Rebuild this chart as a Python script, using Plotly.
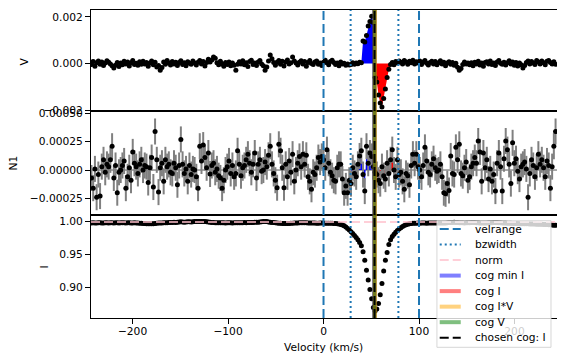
import numpy as np
import plotly.graph_objects as go
from plotly.subplots import make_subplots

# ---------------- data ----------------
vel_start, vel_step, n_pts = -243.0, 1.8, 271
velocity = np.round(vel_start + vel_step * np.arange(n_pts), 2)

# Stokes V in units of 1e-4
V_1e4 = [
    -0.5, 0.8, -1.2, 0.3, 1.0, -0.4, 0.6, -0.9, 0.2, 1.1,
    0.5, -0.3, -1.0, -2.0, -0.8, 0.4, -1.3, 0.2, -0.6, 0.9,
    -0.2, 0.6, -1.1, 0.3, 1.2, -0.5, 0.1, -0.8, 0.7, -0.4,
    0.9, -0.3, 0.4, -1.2, 0.2, 1.0, -0.6, 0.5, -1.5, -0.9,
    -2.9, -1.8, 0.6, -0.4, 1.3, 0.2, -0.7, 0.8, -0.2, 0.5,
    -0.9, 0.4, 1.1, -0.5, 0.3, -1.0, 0.7, 0.1, -0.4, 1.0,
    0.2, -0.7, 0.5, 1.3, -0.3, 0.8, -1.1, 0.4, 1.8, 0.6,
    1.5, 2.8, 2.2, 0.3, -0.6, 0.9, -0.2, -1.2, 0.4, -0.5,
    0.6, -1.0, 0.2, -0.8, -2.9, -0.4, 0.7, -0.2, 1.1, -0.6,
    0.3, -1.3, 0.8, 1.4, -0.5, 0.2, -0.9, 0.6, 1.2, -0.3,
    -1.0, -2.9, -1.5, 1.0, 3.6, 2.0, 0.4, -0.8, 0.5, 1.2,
    -0.4, 0.9, -1.1, 0.6, 1.5, -0.2, 0.3, 2.8, 1.0, 0.2,
    -0.7, 0.5, 1.1, -0.3, 0.8, -1.2, 0.4, 1.3, 0.0, -0.5,
    0.6, 1.0, -0.4, 0.2, -0.9, 0.5, 1.4, 0.3, -0.6, 0.8,
    1.4, 0.4, -0.5, 0.2, -1.0, 0.6, -0.3, 0.1, -0.8, -0.2,
    -0.7, -0.5, 0.3, -0.4, 0.2, -0.1, 0.5, 0.3, 9.6, 9.2,
    12.0, 16.0, 18.0, 20.2, 17.5, -6.0, -8.0, -13.5, -17.0, -18.7,
    -15.0, -11.0, -6.0, -2.5, -0.5, 0.4, -0.6, 0.8, 0.2, 1.0,
    0.5, -0.3, 1.2, 0.6, -0.4, 0.9, 0.3, 1.4, -0.2, 0.7,
    0.2, 1.0, -0.5, 0.6, 1.3, 0.1, -0.7, 0.4, 0.9, -0.3,
    0.8, -0.6, 0.3, 1.1, -0.2, 0.5, -1.0, 0.2, 0.7, -0.4,
    0.4, -0.8, 0.1, -1.6, -2.9, -2.2, -0.5, 0.6, -0.3, 0.2,
    -0.6, 0.3, -1.0, 0.5, -0.2, 0.9, -0.7, 0.2, -1.2, 0.4,
    0.7, -0.3, 1.0, -0.5, 0.2, -0.9, 0.6, 1.3, 0.1, -0.4,
    0.5, -0.7, 0.3, 1.1, -0.2, 0.6, -0.8, 0.4, -1.1, 0.2,
    -0.6, -2.0, -0.9, 0.4, 1.0, -0.3, 0.8, 0.2, -0.5, 1.2,
    0.6, -0.2, 1.0, 0.3, -0.6, 0.9, 1.3, 0.4, -0.3, 0.7,
    -0.4,
]

# Null profile N1 in units of 1e-4
N1_1e4 = [
    -0.7, -1.6, 0.1, -2.4, -0.4, -2.3, 0.3, 0.9, -0.2, 0.5,
    0.3, 0.9, 2.1, -0.7, 0.4, -2.0, -0.2, 0.0, 0.4, 0.8,
    -1.6, -0.6, 0.2, -0.9, 1.6, 0.6, 0.3, -0.3, 0.5, 0.9,
    0.0, 0.4, 0.3, -1.1, 0.2, 1.1, -1.5, 3.4, 0.9, -1.95,
    0.2, 0.6, -1.0, 0.9, 0.3, 0.5, -0.2, -0.3, 0.6, 0.2,
    -1.3, 0.4, 2.7, 0.5, -0.3, 0.1, -1.0, 0.4, -0.4, 0.1,
    0.0, -0.6, -1.6, 2.1, 0.8, 2.2, 1.1, 0.2, 1.5, -0.35,
    0.4, 0.6, -0.2, 0.1, -0.5, -0.7, -1.6, -0.9, 0.0, 0.3,
    0.8, -0.3, 0.4, -0.6, -0.3, 1.7, 0.5, -0.5, 0.2, 0.4,
    0.9, 1.4, 0.6, -0.2, 0.5, 1.5, -0.7, 0.5, 0.9, -0.1,
    0.0, 0.7, 0.3, 1.3, 2.1, 0.5, -0.3, -0.9, -1.56, 2.27,
    1.7, 0.2, -1.56, 0.5, -0.6, 0.8, -0.2, 1.4, -1.0, 0.0,
    0.6, 1.2, 0.3, 1.4, 0.5, 1.3, -0.6, -1.0, -1.7, -0.2,
    -0.4, 0.2, 1.1, 0.7, 1.2, 0.9, 0.2, 1.8, 0.6, -0.2,
    -0.5, -0.9, -1.0, 0.2, 0.5, 0.5, -0.8, -2.0, -1.4, -2.0,
    -0.9, -1.2, 0.2, -0.3, -0.6, 0.5, 1.24, 1.7, -0.4, -1.86,
    2.1, 0.6, 1.5, 1.2, 0.3, -0.2, -0.4, -0.9, -1.2, 0.3,
    -0.5, -0.8, 0.6, -0.3, 0.9, 1.8, 0.0, -0.6, 0.9, -0.4,
    -0.2, -1.0, -1.7, -0.3, -0.5, -1.3, 0.4, 1.4, 0.6, 1.4,
    0.3, 0.0, -0.6, 0.4, 2.0, 0.8, -0.2, -0.4, 0.5, 1.0,
    0.2, -0.1, 0.0, 0.5, -0.6, -2.0, -2.1, -1.2, -1.8, 1.24,
    -0.3, -0.4, 2.0, 0.9, 2.27, -0.3, -0.5, 0.2, 0.7, -0.9,
    -0.6, 0.3, 0.6, 1.1, 0.6, 2.56, 1.6, -1.0, 1.5, 0.2,
    0.9, -0.8, 0.1, -1.0, -0.4, -1.86, 0.6, 1.5, 0.3, -1.86,
    1.0, 2.56, 1.8, 0.5, -1.2, 2.4, 0.6, 1.0, -0.1, -0.8,
    0.3, 0.5, 0.7, 0.1, -2.4, -0.3, 0.9, 0.4, -0.6, 0.2,
    1.4, 0.5, 0.9, 0.2, -0.6, 0.8, 0.4, -1.6, 0.3, 2.1,
    3.4,
]
N1_err = 1.15e-4

# Stokes I
I_flux = [
    0.9975, 0.9978, 0.9976, 0.9974, 0.9977, 0.9979, 0.9976, 0.9975, 0.9978, 0.9977,
    0.9976, 0.9978, 0.9977, 0.9975, 0.9977, 0.9978, 0.9976, 0.9977, 0.9979, 0.9977,
    0.9976, 0.9978, 0.9977, 0.9975, 0.9976, 0.9977, 0.9976, 0.9974, 0.9972, 0.9970,
    0.9968, 0.9966, 0.9964, 0.9963, 0.9962, 0.9963, 0.9964, 0.9966, 0.9970, 0.9973,
    0.9975, 0.9976, 0.9978, 0.9977, 0.9979, 0.9981, 0.9980, 0.9982, 0.9984, 0.9983,
    0.9985, 0.9990, 0.9993, 0.9988, 0.9985, 0.9990, 0.9994, 0.9992, 0.9990, 0.9993,
    0.9995, 0.9996, 0.9995, 0.9997, 0.9996, 0.9995, 0.9996, 0.9994, 0.9990, 0.9986,
    0.9982, 0.9980, 0.9979, 0.9978, 0.9979, 0.9977, 0.9978, 0.9977, 0.9976, 0.9977,
    0.9978, 0.9977, 0.9976, 0.9977, 0.9978, 0.9979, 0.9978, 0.9977, 0.9978, 0.9980,
    0.9979, 0.9980, 0.9981, 0.9983, 0.9982, 0.9984, 0.9985, 0.9987, 0.9990, 0.9993,
    0.9996, 0.9997, 0.9995, 0.9990, 0.9985, 0.9982, 0.9980, 0.9977, 0.9975, 0.9972,
    0.9970, 0.9968, 0.9967, 0.9966, 0.9967, 0.9968, 0.9970, 0.9972, 0.9974, 0.9975,
    0.9976, 0.9977, 0.9978, 0.9979, 0.9978, 0.9977, 0.9976, 0.9975, 0.9975, 0.9974,
    0.9973, 0.9972, 0.9972, 0.9973, 0.9974, 0.9973, 0.9972, 0.9971, 0.9970, 0.9970,
    0.9970, 0.9968, 0.9966, 0.9963, 0.9959, 0.9953, 0.9945, 0.9932, 0.9915, 0.9893,
    0.9868, 0.9843, 0.9815, 0.9785, 0.9755, 0.9720, 0.9680, 0.9630, 0.9540, 0.9410,
    0.9260, 0.9115, 0.8970, 0.8830, 0.8700, 0.8645, 0.8675, 0.8760, 0.8890, 0.9060,
    0.9250, 0.9410, 0.9530, 0.9650, 0.9720, 0.9770, 0.9805, 0.9835, 0.9860, 0.9882,
    0.9902, 0.9920, 0.9935, 0.9947, 0.9955, 0.9962, 0.9966, 0.9969, 0.9971, 0.9972,
    0.9973, 0.9972, 0.9973, 0.9974, 0.9973, 0.9972, 0.9973, 0.9974, 0.9975, 0.9974,
    0.9973, 0.9974, 0.9975, 0.9974, 0.9973, 0.9974, 0.9976, 0.9978, 0.9980, 0.9982,
    0.9983, 0.9984, 0.9982, 0.9980, 0.9979, 0.9978, 0.9977, 0.9976, 0.9977, 0.9978,
    0.9979, 0.9980, 0.9981, 0.9980, 0.9978, 0.9977, 0.9976, 0.9975, 0.9974, 0.9975,
    0.9976, 0.9977, 0.9978, 0.9979, 0.9980, 0.9981, 0.9980, 0.9979, 0.9977, 0.9975,
    0.9974, 0.9973, 0.9972, 0.9970, 0.9969, 0.9968, 0.9967, 0.9966, 0.9965, 0.9964,
    0.9963, 0.9962, 0.9962, 0.9963, 0.9962, 0.9961, 0.9960, 0.9959, 0.9958, 0.9957,
    0.9956, 0.9955, 0.9954, 0.9953, 0.9952, 0.9950, 0.9948, 0.9946, 0.9944, 0.9942,
    0.9940,
]

velrange = [0.0, 100.0]
bz_halfwidth = 25.0
norm_level = 0.999
cog_min_I = 53.2
cog_I = 53.4
cog_IV = 53.9
cog_V = 53.3
chosen_cog = cog_I

x_ticks = [-200, -100, 0, 100, 200]
V_ticks = [-0.002, 0.0, 0.002]
N_ticks = [-0.00025, 0.0, 0.00025, 0.0005]
I_ticks = [0.90, 0.95, 1.00]

for name, arr in [("V", V_1e4), ("N1", N1_1e4), ("I", I_flux)]:
    if len(arr) != n_pts:
        raise SystemExit(f"{name} has {len(arr)} values, expected {n_pts}")

v = velocity
V = np.array(V_1e4) * 1e-4
N1 = np.array(N1_1e4) * 1e-4
I = np.array(I_flux)

# ---------------- figure ----------------
FONT = "DejaVu Sans"
FS = 10.67
WIN_W, WIN_H = 565, 363
PAGE = 8                      # default page margin of the html body
W, H = WIN_W - PAGE, WIN_H - PAGE
# plot area edges in window pixels
AX_L, AX_R, AX_T, AX_B = 91, 556.7, 10, 318
L, T = AX_L - PAGE, AX_T - PAGE
R = W - (AX_R - PAGE)
B = H - (AX_B - PAGE)
PW, PH = AX_R - AX_L, AX_B - AX_T

fig = make_subplots(rows=3, cols=1, shared_xaxes=True, vertical_spacing=0)

bz_lo, bz_hi = chosen_cog - bz_halfwidth, chosen_cog + bz_halfwidth
left = (v >= bz_lo) & (v <= chosen_cog)
right = (v >= chosen_cog) & (v <= bz_hi)

for row, y in [(1, V), (2, N1)]:
    fig.add_trace(go.Scatter(x=v[left], y=y[left], mode="lines", line=dict(width=0),
                             fill="tozeroy", fillcolor="blue", showlegend=False,
                             hoverinfo="skip"), row=row, col=1)
    fig.add_trace(go.Scatter(x=v[right], y=y[right], mode="lines", line=dict(width=0),
                             fill="tozeroy", fillcolor="red", showlegend=False,
                             hoverinfo="skip"), row=row, col=1)

fig.add_trace(go.Scatter(x=v, y=V, mode="markers", marker=dict(color="black", size=5),
                         showlegend=False), row=1, col=1)
fig.add_trace(go.Scatter(x=v, y=N1, mode="markers", marker=dict(color="black", size=5),
                         error_y=dict(type="constant", value=N1_err, color="#808080",
                                      thickness=2, width=0),
                         showlegend=False), row=2, col=1)
fig.add_trace(go.Scatter(x=v, y=I, mode="markers", marker=dict(color="black", size=5),
                         showlegend=False), row=3, col=1)

DASH = "9px,4px"
DOT = "2px,3px"
velrange_style = dict(color="#1f77b4", width=2, dash=DASH)
bz_style = dict(color="#1f77b4", width=2, dash=DOT)
norm_style = dict(color="pink", width=1.5, dash=DASH)
cog_styles = [
    ("cog min I", cog_min_I, dict(color="rgba(0,0,255,0.5)", width=4)),
    ("cog I", cog_I, dict(color="rgba(255,0,0,0.5)", width=4)),
    ("cog I*V", cog_IV, dict(color="rgba(255,165,0,0.5)", width=4)),
    ("cog V", cog_V, dict(color="rgba(0,128,0,0.5)", width=4)),
]
chosen_style = dict(color="black", width=2, dash=DASH)

shapes = []
shapes.append(dict(type="line", xref="x2 domain", yref="y2", x0=0, x1=1, y0=0, y1=0,
                   line=dict(color="#555555", width=1), layer="below"))
shapes.append(dict(type="line", xref="x3 domain", yref="y3", x0=0, x1=1,
                   y0=norm_level, y1=norm_level, line=norm_style, layer="above"))
for k in (1, 2, 3):
    xr = "x" if k == 1 else f"x{k}"
    yr = ("y" if k == 1 else f"y{k}") + " domain"
    for xv in velrange:
        shapes.append(dict(type="line", xref=xr, yref=yr, x0=xv, x1=xv, y0=0, y1=1,
                           line=velrange_style, layer="above"))
    for xv in (bz_lo, bz_hi):
        shapes.append(dict(type="line", xref=xr, yref=yr, x0=xv, x1=xv, y0=0, y1=1,
                           line=bz_style, layer="above"))
    for _, xv, st in cog_styles:
        shapes.append(dict(type="line", xref=xr, yref=yr, x0=xv, x1=xv, y0=0, y1=1,
                           line=st, layer="above"))
    shapes.append(dict(type="line", xref=xr, yref=yr, x0=chosen_cog, x1=chosen_cog,
                       y0=0, y1=1, line=chosen_style, layer="above"))


def px_x(px):
    """window pixel x -> paper x"""
    return (px - AX_L) / PW


def px_y(py):
    """window pixel y -> paper y"""
    return (AX_B - py) / PH


legend_items = [("velrange", velrange_style), ("bzwidth", bz_style), ("norm", norm_style)]
legend_items += [(name, st) for name, _, st in cog_styles]
legend_items.append(("chosen cog: I", chosen_style))

box_l, box_r, box_t, box_b = 436.7, 550.7, 220.7, 347.3
shapes.append(dict(type="rect", xref="paper", yref="paper",
                   x0=px_x(box_l), x1=px_x(box_r), y0=px_y(box_b), y1=px_y(box_t),
                   fillcolor="rgba(255,255,255,0.8)",
                   line=dict(color="rgba(204,204,204,0.8)", width=1), layer="above"))
annotations = []
row0, row_step = 229.0, 15.53
for j, (label, st) in enumerate(legend_items):
    yy = px_y(row0 + j * row_step)
    shapes.append(dict(type="line", xref="paper", yref="paper", x0=px_x(439.5),
                       x1=px_x(460.5), y0=yy, y1=yy, line=st, layer="above"))
    annotations.append(dict(xref="paper", yref="paper", x=px_x(472.5), y=yy,
                            text=label, showarrow=False, xanchor="left",
                            yanchor="middle", font=dict(family=FONT, size=FS, color="black")))

for txt, xpx, ypx in [("V", 25, 61.5), ("N1", 13.5, 163), ("I", 45, 266.5)]:
    annotations.append(dict(xref="paper", yref="paper", x=px_x(xpx), y=px_y(ypx),
                            text=txt, textangle=-90, showarrow=False,
                            xanchor="center", yanchor="middle",
                            font=dict(family=FONT, size=FS, color="black")))
annotations.append(dict(xref="paper", yref="paper", x=px_x(323.5), y=px_y(347),
                        text="Velocity (km/s)", showarrow=False, xanchor="center",
                        yanchor="middle", font=dict(family=FONT, size=FS, color="black")))

axis_common = dict(showgrid=False, zeroline=False, showline=True, mirror=True,
                   linecolor="black", linewidth=1, automargin=False)

fig.update_layout(
    width=W, height=H,
    margin=dict(l=L, r=R, t=T, b=B, autoexpand=False),
    paper_bgcolor="white", plot_bgcolor="white",
    font=dict(family=FONT, size=FS, color="black"),
    showlegend=False,
    shapes=shapes, annotations=annotations,
)

x_range = [-243.5, 244.5]
d_bot = (AX_B - 215) / PH
d_mid = (AX_B - 111) / PH
fig.update_xaxes(range=x_range, **axis_common)
fig.update_xaxes(ticks="", showticklabels=False, row=1, col=1)
fig.update_xaxes(ticks="", showticklabels=False, row=2, col=1)
fig.update_xaxes(ticks="outside", ticklen=5, tickwidth=1, tickcolor="black",
                 tickvals=x_ticks, ticklabelstandoff=-2, row=3, col=1)

ycommon = dict(ticks="outside", ticklen=5, tickwidth=1, tickcolor="black",
               ticklabelstandoff=0, **axis_common)
fig.update_yaxes(range=[-0.00204, 0.00229], tickvals=V_ticks, tickformat=".3f",
                 domain=[d_mid, 1.0], row=1, col=1, **ycommon)
fig.update_yaxes(range=[-0.000397, 0.000521], tickvals=N_ticks, tickformat=".5f",
                 domain=[d_bot, d_mid], row=2, col=1, **ycommon)
fig.update_yaxes(range=[0.854, 1.0095], tickvals=I_ticks, tickformat=".2f",
                 domain=[0.0, d_bot], row=3, col=1, **ycommon)

fig.write_html("out.html")
